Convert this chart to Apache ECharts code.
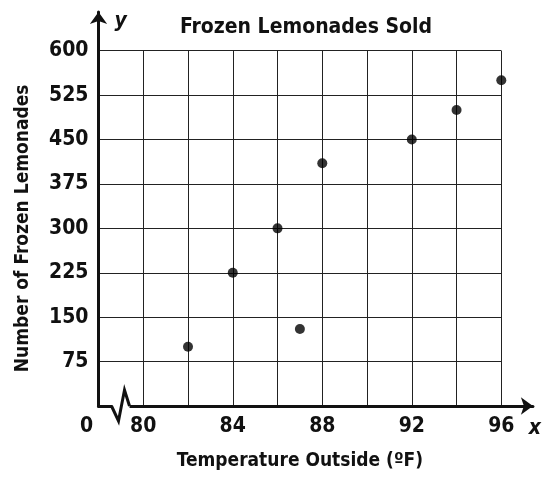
<!DOCTYPE html>
<html>
<head>
<meta charset="utf-8">
<script src="https://cdn.jsdelivr.net/npm/echarts@6/dist/echarts.min.js"></script>
<style>
  html, body { margin: 0; padding: 0; background: #fff; }
  #chart { width: 544px; height: 479px; }
</style>
</head>
<body>
<div id="chart"></div>
<script>
// temperature (°F) vs lemonades sold
var temps = [82, 84, 86, 87, 88, 92, 94, 96];
var sold = [100, 225, 300, 130, 410, 450, 500, 550];
var xLabels = [80, 84, 88, 92, 96];
var yTicks = [75, 150, 225, 300, 375, 450, 525, 600];

var font = "'Liberation Sans Narrow', 'DejaVu Sans Condensed', sans-serif";
var ink = '#111';

var points = temps.map(function (t, i) { return [t, sold[i]]; });

var chart = echarts.init(document.getElementById('chart'));

var option = {
  animation: false,
  title: {
    text: 'Frozen Lemonades Sold',
    left: 301,
    top: 12,
    textAlign: 'center',
    textStyle: { fontFamily: font, fontSize: 21, fontWeight: 'bold', color: ink }
  },
  grid: [
    // data grid
    { left: 98.5, right: 42.7, top: 50.7, bottom: 73 },
    // grid only for the arrowed axes
    { left: 98.5, right: 8, top: 12, bottom: 73 }
  ],
  xAxis: [
    {
      gridIndex: 0,
      type: 'value',
      min: 78,
      max: 96,
      interval: 2,
      name: 'Temperature Outside (ºF)',
      nameLocation: 'middle',
      nameGap: 46,
      nameTextStyle: { fontFamily: font, fontSize: 19, fontWeight: 'bold', color: ink },
      axisLine: { show: false },
      axisTick: { show: false },
      axisLabel: {
        margin: 10,
        fontFamily: font,
        fontSize: 21,
        fontWeight: 'bold',
        color: ink,
        showMinLabel: true,
        showMaxLabel: true,
        formatter: function (v) {
          if (v === 78) return '{zero|0}';
          return xLabels.indexOf(v) >= 0 ? String(v) : '';
        },
        rich: {
          zero: { fontFamily: font, fontSize: 21, fontWeight: 'bold', color: ink, padding: [0, 24, 0, 0] }
        }
      },
      splitLine: { show: true, lineStyle: { color: '#222', width: 1 } }
    },
    {
      gridIndex: 1,
      type: 'value',
      min: 0,
      max: 1,
      name: 'x',
      nameLocation: 'end',
      nameGap: 2,
      nameTextStyle: {
        fontFamily: font, fontSize: 21, fontWeight: 'bold', fontStyle: 'italic', color: ink,
        align: 'center', verticalAlign: 'top', padding: [12, 0, 0, 0]
      },
      axisLine: {
        show: true, onZero: false,
        symbol: ['none', 'arrow'], symbolSize: [13, 12],
        lineStyle: { color: ink, width: 3 }
      },
      axisTick: { show: false },
      axisLabel: { show: false },
      splitLine: { show: false }
    }
  ],
  yAxis: [
    {
      gridIndex: 0,
      type: 'value',
      min: 0,
      max: 600,
      interval: 75,
      name: 'Number of Frozen Lemonades',
      nameLocation: 'middle',
      nameGap: 66,
      nameTextStyle: { fontFamily: font, fontSize: 19, fontWeight: 'bold', color: ink },
      axisLine: { show: false },
      axisTick: { show: false },
      axisLabel: {
        margin: 10,
        fontFamily: font,
        fontSize: 21,
        fontWeight: 'bold',
        color: ink,
        formatter: function (v) { return yTicks.indexOf(v) >= 0 ? String(v) : ''; }
      },
      splitLine: { show: true, lineStyle: { color: '#222', width: 1 } }
    },
    {
      gridIndex: 1,
      type: 'value',
      min: 0,
      max: 1,
      name: 'y',
      nameLocation: 'end',
      nameGap: -10,
      nameTextStyle: {
        fontFamily: font, fontSize: 21, fontWeight: 'bold', fontStyle: 'italic', color: ink,
        align: 'left', verticalAlign: 'middle', padding: [0, 0, 0, 16]
      },
      axisLine: {
        show: true, onZero: false,
        symbol: ['none', 'arrow'], symbolSize: [13, 12],
        lineStyle: { color: ink, width: 3 }
      },
      axisTick: { show: false },
      axisLabel: { show: false },
      splitLine: { show: false }
    }
  ],
  series: [
    {
      type: 'scatter',
      xAxisIndex: 0,
      yAxisIndex: 0,
      data: points,
      symbol: 'circle',
      symbolSize: 10,
      itemStyle: { color: '#000' },
      z: 5
    }
  ]
};

chart.setOption(option);

// axis break zigzag, placed relative to the origin of the data grid
var o = chart.convertToPixel({ gridIndex: 0 }, [78, 0]);
chart.setOption({
  graphic: [
    {
      type: 'rect',
      z: 100,
      shape: { x: o[0] + 14, y: o[1] - 3, width: 17, height: 6 },
      style: { fill: '#fff' }
    },
    {
      type: 'polyline',
      z: 101,
      shape: { points: [[o[0] + 13, o[1]], [o[0] + 20, o[1] + 15], [o[0] + 26, o[1] - 16], [o[0] + 31, o[1]]] },
      style: { stroke: ink, lineWidth: 3, fill: null, lineJoin: 'miter' }
    }
  ]
});
</script>
</body>
</html>
